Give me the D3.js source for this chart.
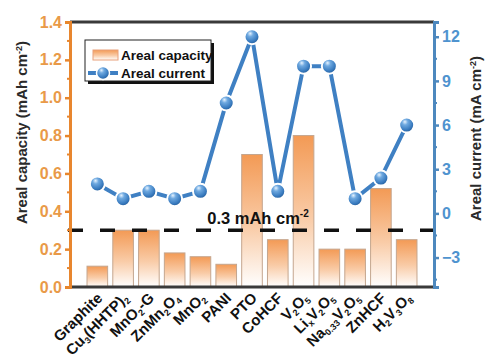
<!DOCTYPE html>
<html><head><meta charset="utf-8">
<script src="https://cdn.jsdelivr.net/npm/d3@7"></script>
<style>body{margin:0;background:#fff}svg{display:block;font-family:Arial,"Liberation Sans",sans-serif}</style>
</head><body><svg id="c" width="500" height="357"></svg>
<script>
const categories = ["Graphite","Cu_{3}(HHTP)_{2}","MnO_{2}-G","ZnMn_{2}O_{4}","MnO_{2}","PANI","PTO","CoHCF","V_{2}O_{5}","Li_{x}V_{2}O_{5}","Na_{0.33}V_{2}O_{5}","ZnHCF","H_{2}V_{3}O_{8}"];
const capacity = [0.11,0.30,0.30,0.18,0.16,0.12,0.70,0.25,0.80,0.20,0.20,0.52,0.25];
const current = [2,1,1.5,1,1.5,7.5,12,1.5,10,10,1,2.4,6];
const leftTicks = [0,0.2,0.4,0.6,0.8,1.0,1.2,1.4];
const leftMinor = [0.1,0.3,0.5,0.7,0.9,1.1,1.3];
const rightTicks = [-3,0,3,6,9,12];
const rightMinor = [-4.5,-1.5,1.5,4.5,7.5,10.5];
const threshold = 0.3;
const thresholdLabel = "0.3 mAh cm";
const seriesNames = ["Areal capacity","Areal current"];

const svg = d3.select("#c");
const L = 70, R = 434, T = 22, B = 287;
const orange = "#E8862E", blue = "#3F80C3";
const FF = "Arial,'Liberation Sans',sans-serif";

const x = d3.scalePoint().domain(d3.range(categories.length)).range([L, R]).padding(1.06);
const yL = d3.scaleLinear().domain([0, 1.4]).range([B, T]);
const yR = d3.scaleLinear().domain([-5, 13]).range([B, T]);

const defs = svg.append("defs");
const bg = defs.append("linearGradient").attr("id","barg").attr("x1",0).attr("y1",0).attr("x2",0).attr("y2",1);
bg.append("stop").attr("offset","0%").attr("stop-color","#F39A55");
bg.append("stop").attr("offset","55%").attr("stop-color","#F9CCA8");
bg.append("stop").attr("offset","100%").attr("stop-color","#FFFFFF");
const rg = defs.append("radialGradient").attr("id","ball").attr("cx","40%").attr("cy","35%").attr("r","65%").attr("fx","38%").attr("fy","28%");
rg.append("stop").attr("offset","0%").attr("stop-color","#E6F3FF");
rg.append("stop").attr("offset","30%").attr("stop-color","#6FA9E0");
rg.append("stop").attr("offset","75%").attr("stop-color","#3A7CC0");
rg.append("stop").attr("offset","100%").attr("stop-color","#245E9C");

// bars
const bw = x.step()*0.8;
svg.append("g").selectAll("rect").data(capacity).join("rect")
  .attr("x",(d,i)=>x(i)-bw/2).attr("y",d=>yL(d)).attr("width",bw).attr("height",d=>yL(0)-yL(d))
  .attr("fill","url(#barg)").attr("stroke","#C4A68F").attr("stroke-width",1);

// threshold
svg.append("line").attr("x1",L-2).attr("x2",R).attr("y1",yL(threshold)).attr("y2",yL(threshold))
  .attr("stroke","#111").attr("stroke-width",3.5).attr("stroke-dasharray","15,17");
const tl = svg.append("text").attr("x",258).attr("y",yL(threshold)-6).attr("text-anchor","middle")
  .attr("font-size",16.5).attr("font-weight","bold").attr("fill","#111");
tl.append("tspan").text(thresholdLabel);
tl.append("tspan").attr("font-size",10).attr("dy",-7).text("-2");

// frame
svg.append("line").attr("x1",L).attr("x2",R).attr("y1",T).attr("y2",T).attr("stroke","#3a3a3a").attr("stroke-width",3);
svg.append("line").attr("x1",L).attr("x2",R).attr("y1",B).attr("y2",B).attr("stroke","#3a3a3a").attr("stroke-width",3);

// left axis
const ga = svg.append("g").attr("transform",`translate(${L},0)`)
  .call(d3.axisLeft(yL).tickValues(leftTicks).tickFormat(d3.format(".1f")).tickSize(5).tickPadding(3));
ga.select(".domain").attr("stroke",orange).attr("stroke-width",3);
ga.selectAll(".tick line").attr("stroke",orange).attr("stroke-width",2.5);
ga.selectAll(".tick text").attr("fill","#E99A48").attr("font-size",16).attr("font-weight","bold").attr("font-family",FF);
ga.append("g").selectAll("line").data(leftMinor).join("line")
  .attr("x1",-3).attr("x2",0).attr("y1",d=>yL(d)).attr("y2",d=>yL(d)).attr("stroke",orange).attr("stroke-width",2);

// right axis
const gr = svg.append("g").attr("transform",`translate(${R},0)`)
  .call(d3.axisRight(yR).tickValues(rightTicks).tickSize(5).tickPadding(3));
gr.select(".domain").attr("stroke","#4D88BE").attr("stroke-width",3);
gr.selectAll(".tick line").attr("stroke","#4D88BE").attr("stroke-width",2.5);
gr.selectAll(".tick text").attr("fill","#4F93CF").attr("font-size",16).attr("font-weight","bold").attr("font-family",FF);
gr.append("g").selectAll("line").data(rightMinor).join("line")
  .attr("x1",0).attr("x2",3).attr("y1",d=>yR(d)).attr("y2",d=>yR(d)).attr("stroke","#4D88BE").attr("stroke-width",2);

// line + points
const line = d3.line().x((d,i)=>x(i)).y(d=>yR(d));
svg.append("path").datum(current).attr("d",line).attr("fill","none").attr("stroke",blue).attr("stroke-width",4);
svg.append("g").selectAll("circle").data(current).join("circle")
  .attr("cx",(d,i)=>x(i)).attr("cy",d=>yR(d)).attr("r",7.5)
  .attr("fill","url(#ball)").attr("stroke","#fff").attr("stroke-width",2);

// x labels
function rich(sel, s, fs){
  const parts = s.split(/(_\{[^}]*\})/).filter(p=>p.length);
  parts.forEach(p=>{
    if(p.startsWith("_{")){
      sel.append("tspan").attr("font-size",fs*0.6).attr("baseline-shift","-30%").text(p.slice(2,-1));
    } else sel.append("tspan").text(p);
  });
}
svg.append("g").selectAll("text").data(categories).join("text")
  .attr("transform",(d,i)=>`translate(${x(i)+6},${B+12}) rotate(-45)`)
  .attr("text-anchor","end").attr("font-size",15).attr("font-weight","bold").attr("fill","#111")
  .each(function(d){ rich(d3.select(this), d, 15); });

// axis titles
const lt = svg.append("text").attr("transform",`translate(27,${(T+B)/2 - 22}) rotate(-90)`)
  .attr("text-anchor","middle").attr("font-size",15).attr("font-weight","bold").attr("fill","#2a2a2a");
lt.append("tspan").text("Areal capacity (mAh cm");
lt.append("tspan").attr("font-size",9).attr("baseline-shift","60%").text("-2");
lt.append("tspan").text(")");
const rt = svg.append("text").attr("transform",`translate(481,${(T+B)/2 - 16}) rotate(-90)`)
  .attr("text-anchor","middle").attr("font-size",15).attr("font-weight","bold").attr("fill","#2a2a2a");
rt.append("tspan").text("Areal current (mA cm");
rt.append("tspan").attr("font-size",9).attr("baseline-shift","60%").text("-2");
rt.append("tspan").text(")");

// legend
const lg = svg.append("g");
lg.append("rect").attr("x",88).attr("y",43).attr("width",126).attr("height",41).attr("fill","#111");
lg.append("rect").attr("x",85).attr("y",40).attr("width",126).attr("height",41).attr("fill","#fff").attr("stroke","#222").attr("stroke-width",1);
lg.append("rect").attr("x",93).attr("y",50).attr("width",25).attr("height",10).attr("fill","url(#barg)").attr("stroke","#E8A07A").attr("stroke-width",1);
lg.append("line").attr("x1",88).attr("x2",118).attr("y1",73).attr("y2",73).attr("stroke",blue).attr("stroke-width",4);
lg.append("circle").attr("cx",103).attr("cy",73).attr("r",6.5).attr("fill","url(#ball)").attr("stroke","#fff").attr("stroke-width",1.5);
lg.append("text").attr("x",121).attr("y",60).attr("font-size",13.5).attr("font-weight","bold").attr("fill","#111").text(seriesNames[0]);
lg.append("text").attr("x",121).attr("y",78).attr("font-size",13.5).attr("font-weight","bold").attr("fill","#111").text(seriesNames[1]);
</script></body></html>
